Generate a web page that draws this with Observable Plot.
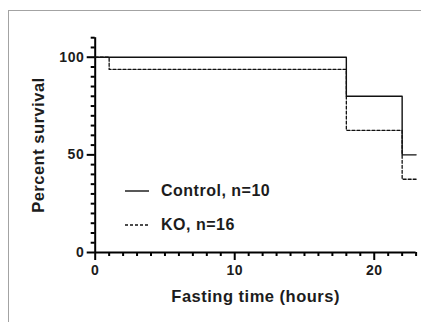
<!DOCTYPE html>
<html><head><meta charset="utf-8">
<script src="https://cdn.jsdelivr.net/npm/d3@7"></script>
<script src="https://cdn.jsdelivr.net/npm/@observablehq/plot@0.6"></script>
<style>
html,body{margin:0;padding:0;background:#fff;}
#wrap{position:relative;width:421px;height:322px;overflow:hidden;}
#wrap > svg{position:absolute;left:0;top:0;}
#wrap svg text{letter-spacing:0.5px;}
#frame{position:absolute;left:8px;top:10px;width:420px;height:320px;border-top:1.5px solid #a3a3a3;border-left:1.5px solid #a3a3a3;pointer-events:none;}
.lg{position:absolute;left:125px;height:20px;display:flex;align-items:center;font-family:'Liberation Sans',Arial,sans-serif;font-weight:bold;font-size:16px;color:#1c1c1c;letter-spacing:0.5px;white-space:nowrap;}
.lg svg{position:static;margin-right:12px;}
</style></head><body><div id="wrap"><div id="frame"></div>
<div class="lg" id="lg0" style="top:181px"></div>
<div class="lg" id="lg1" style="top:215px"></div>
</div>
<script>
// Data (Kaplan-Meier survival, step curves)
const controlTime = [0, 18, 22, 23];
const controlSurvival = [100, 80, 50, 50];
const koTime = [0, 1, 18, 22, 23];
const koSurvival = [100, 93.75, 62.5, 37.5, 37.5];
const seriesNames = ["Control, n=10", "KO, n=16"];
const seriesDash = [null, "3,2"];
const xMajorTicks = [0, 10, 20];
const xMinorTicks = [1,2,3,4,5,6,7,8,9,11,12,13,14,15,16,17,18,19,21,22,23];
const yMajorTicks = [0, 50, 100];
const yMinorTicks = [5,10,15,20,25,30,35,40,45,55,60,65,70,75,80,85,90,95,105,110];
const xTitle = "Fasting time (hours)";
const yTitle = "Percent survival";

const control = controlTime.map((t, i) => ({t, s: controlSurvival[i]}));
const ko = koTime.map((t, i) => ({t, s: koSurvival[i]}));

const plot = Plot.plot({
  width: 421, height: 322,
  marginLeft: 94.7, marginRight: 5.4, marginTop: 37.2, marginBottom: 70,
  style: {fontFamily: "'Liberation Sans', Arial, sans-serif", fontSize: "14px", fontWeight: "bold", color: "#1c1c1c", background: "transparent"},
  x: {domain: [0, 23]},
  y: {domain: [0, 110]},
  marks: [
    Plot.axisX(xMajorTicks, {tickSize: 0, tickPadding: 13, label: null}),
    Plot.axisY(yMajorTicks, {tickSize: 0, tickPadding: 11, label: null}),
    Plot.text([xTitle], {text: d => d, frameAnchor: "bottom", textAnchor: "middle", lineAnchor: "middle", dy: 44.4, fontSize: 16.5}),
    Plot.text([yTitle], {text: d => d, frameAnchor: "left", textAnchor: "middle", lineAnchor: "middle", dx: -56.8, rotate: -90, fontSize: 16.5}),
    Plot.ruleY([0], {stroke: "#000", strokeWidth: 2}),
    Plot.ruleX([0], {stroke: "#000", strokeWidth: 2}),
    Plot.ruleX(xMinorTicks, {x: d => d, y1: 0, y2: 0, insetBottom: -4, stroke: "#000", strokeWidth: 2}),
    Plot.ruleX(xMajorTicks, {x: d => d, y1: 0, y2: 0, insetBottom: -8, stroke: "#000", strokeWidth: 2}),
    Plot.ruleY(yMinorTicks, {y: d => d, x1: 0, x2: 0, insetLeft: -4, stroke: "#000", strokeWidth: 2}),
    Plot.ruleY(yMajorTicks, {y: d => d, x1: 0, x2: 0, insetLeft: -8, stroke: "#000", strokeWidth: 2}),
    Plot.line(control, {x: "t", y: "s", curve: "step-after", stroke: "#111", strokeWidth: 1.4}),
    Plot.line(ko, {x: "t", y: "s", curve: "step-after", stroke: "#111", strokeWidth: 1.3, strokeDasharray: "3,2"})
  ]
});
document.getElementById("wrap").prepend(plot);

// Legend (HTML overlay inside the plot area)
seriesNames.forEach((name, i) => {
  const el = document.getElementById("lg" + i);
  el.innerHTML = '<svg width="24" height="20"><line x1="0" x2="24" y1="10" y2="10" stroke="#111" stroke-width="1.4"' +
    (seriesDash[i] ? ' stroke-dasharray="' + seriesDash[i] + '"' : '') + '></line></svg>';
  const span = document.createElement("span");
  span.textContent = name;
  el.appendChild(span);
});
</script></body></html>
